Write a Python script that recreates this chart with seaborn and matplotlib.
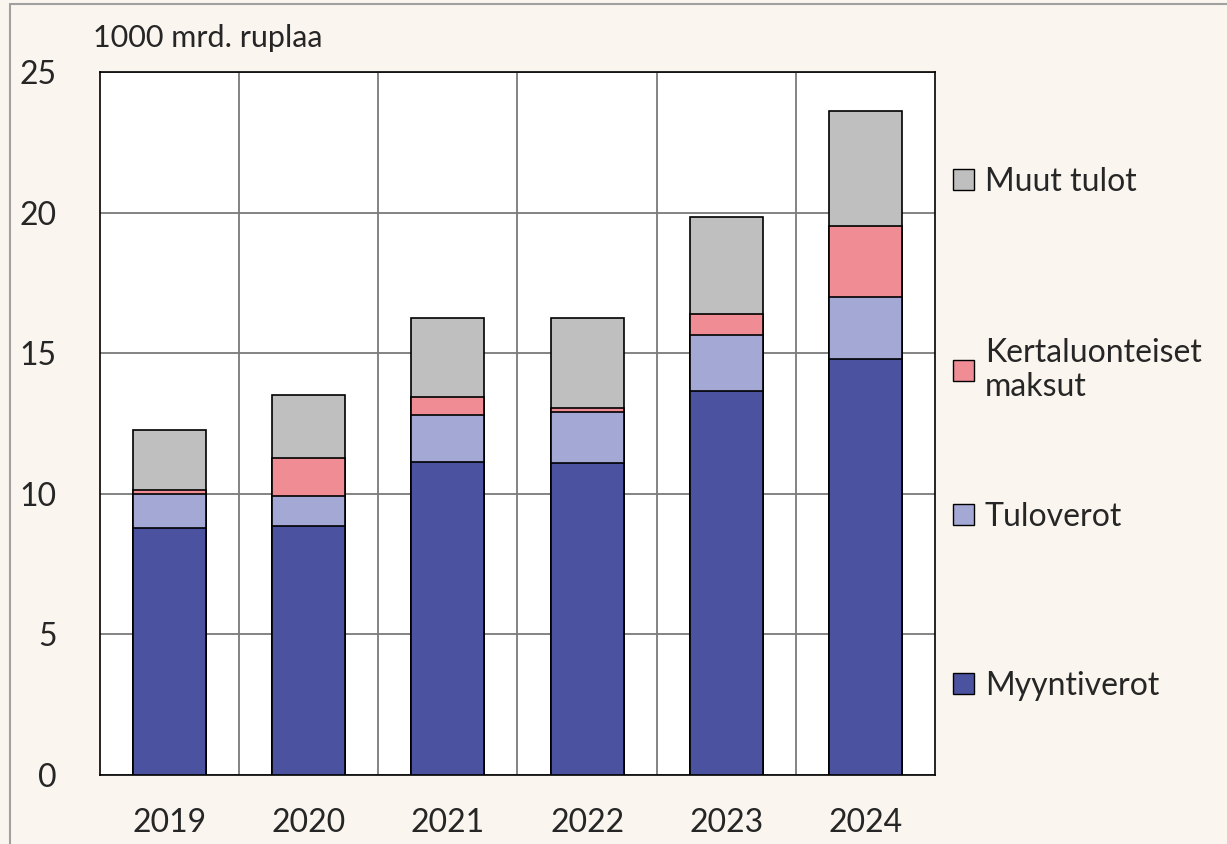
import numpy as np
import pandas as pd
import matplotlib
matplotlib.use("Agg")
import matplotlib.pyplot as plt
import seaborn as sns
from matplotlib.patches import Patch
from matplotlib.lines import Line2D

years = ["2019", "2020", "2021", "2022", "2023", "2024"]
myyntiverot = [8.78, 8.85, 11.13, 11.10, 13.66, 14.79]
tuloverot = [1.21, 1.08, 1.67, 1.81, 1.99, 2.22]
kertaluonteiset = [0.15, 1.34, 0.64, 0.14, 0.74, 2.52]
muut_tulot = [2.13, 2.24, 2.81, 3.20, 3.45, 4.08]

labels = ["Myyntiverot", "Tuloverot", "Kertaluonteiset\nmaksut", "Muut tulot"]
colors = ["#4B53A1", "#A3A8D5", "#F08C94", "#BFBFBF"]
yticks = [0, 5, 10, 15, 20, 25]

sns.set_style("white")
plt.rcParams["font.family"] = ["Lato", "DejaVu Sans"]

df = pd.DataFrame({"year": years,
                   labels[0]: myyntiverot,
                   labels[1]: tuloverot,
                   labels[2]: kertaluonteiset,
                   labels[3]: muut_tulot})
cum = df[labels].cumsum(axis=1)

bg = "#FAF5EF"
fig = plt.figure(figsize=(12.27, 8.44), dpi=100, facecolor=bg)
ax = fig.add_axes([0.0815, 0.0818, 0.6805, 0.8329])
ax.set_facecolor("white")

# draw from the tallest layer down so each lower segment sits on top
for name, col in reversed(list(zip(labels, colors))):
    sns.barplot(x=df["year"], y=cum[name], color=col, saturation=1,
                edgecolor="black", linewidth=1.2, width=0.525,
                errorbar=None, ax=ax, zorder=3)

ax.set_xlim(-0.5, len(years) - 0.5)
ax.set_ylim(0, 25)
ax.set_yticks(yticks)
ax.set_xticks(np.arange(len(years)))
ax.set_xticklabels(years)
ax.set_xticks(np.arange(len(years) - 1) + 0.5, minor=True)
ax.grid(axis="y", which="major", color="#7a7a7a", lw=1.3, zorder=0)
ax.grid(axis="x", which="minor", color="#7a7a7a", lw=1.3, zorder=0)
ax.grid(axis="x", which="major", visible=False)
ax.tick_params(axis="y", length=0, pad=31, labelsize=23)
ax.tick_params(axis="x", which="both", length=0, pad=24, labelsize=23)
ax.set_xlabel("")
ax.set_ylabel("")
for s in ax.spines.values():
    s.set_color("black")
    s.set_linewidth(1.2)
    s.set_visible(True)

fig.text(0.076, 1 - 38 / 844, "1000 mrd. ruplaa", fontsize=22, va="center", ha="left")

# legend entries sit at uneven heights in the original, so one small legend each
handles = [Patch(facecolor=c, edgecolor="black", lw=1.0) for c in colors]
legend_y = [686, 517, 370, 182]
for h, lab, ypx in zip(handles, labels, legend_y):
    fig.legend([h], [lab], loc="center left",
               bbox_to_anchor=(0.777, 1 - ypx / 844),
               frameon=False, fontsize=23, handlelength=0.63, handleheight=0.63,
               handletextpad=0.35, borderpad=0, borderaxespad=0)

# frame lines of the surrounding panel
fig.add_artist(Line2D([10 / 1227, 10 / 1227], [0, 1 - 4 / 844], color="#A0A0A0", lw=1.5,
                      transform=fig.transFigure))
fig.add_artist(Line2D([10 / 1227, 1], [1 - 4 / 844, 1 - 4 / 844], color="#A0A0A0", lw=1.5,
                      transform=fig.transFigure))

fig.savefig("out.png", dpi=100, facecolor=bg)
